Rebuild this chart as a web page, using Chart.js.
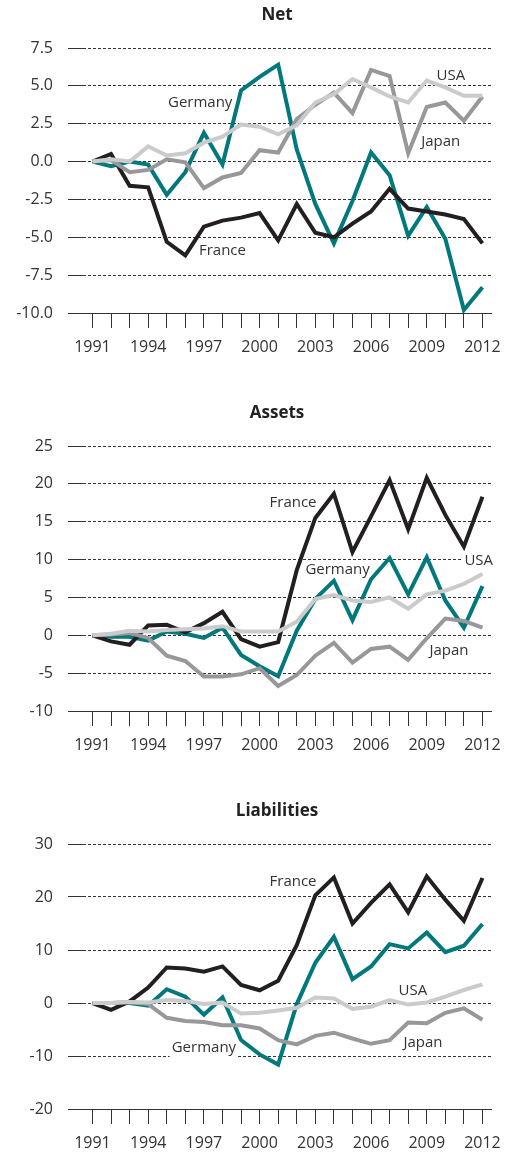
<!DOCTYPE html>
<html>
<head>
<meta charset="utf-8">
<script src="https://cdn.jsdelivr.net/npm/chart.js@4.4.1/dist/chart.umd.min.js"></script>
<style>
    html, body { margin: 0; padding: 0; background: #fff; }
    body { width: 511px; height: 1160px; position: relative; overflow: hidden; }
    canvas { position: absolute; left: 0; }
</style>
</head>
<body>
<canvas id="netChart" width="511" height="364" style="top:0px"></canvas>
<canvas id="assetsChart" width="511" height="364" style="top:398px"></canvas>
<canvas id="liabChart" width="511" height="364" style="top:796px"></canvas>
<script>
    const years = [1991, 1992, 1993, 1994, 1995, 1996, 1997, 1998, 1999, 2000, 2001,
                   2002, 2003, 2004, 2005, 2006, 2007, 2008, 2009, 2010, 2011, 2012];

    // Net
    const franceNet  = [0, 0.5, -1.6, -1.7, -5.3, -6.2, -4.3, -3.9, -3.7, -3.4, -5.2, -2.8, -4.7, -5.0, -4.1, -3.3, -1.8, -3.1, -3.3, -3.5, -3.8, -5.4];
    const germanyNet = [0, -0.3, 0, -0.2, -2.2, -0.7, 1.9, -0.2, 4.7, 5.6, 6.4, 0.8, -2.8, -5.4, -2.6, 0.6, -0.9, -4.9, -3.0, -5.1, -9.8, -8.3];
    const usaNet     = [0, 0.15, 0, 1.0, 0.4, 0.55, 1.25, 1.65, 2.45, 2.3, 1.8, 2.4, 3.9, 4.45, 5.45, 4.9, 4.3, 3.9, 5.35, 4.9, 4.35, 4.35];
    const japanNet   = [0, 0.1, -0.7, -0.55, 0.15, -0.05, -1.75, -1.05, -0.75, 0.75, 0.6, 2.8, 3.75, 4.55, 3.2, 6.05, 5.65, 0.55, 3.6, 3.9, 2.7, 4.3];
    const netTicks   = [-10, -7.5, -5, -2.5, 0, 2.5, 5, 7.5];

    // Assets
    const franceAssets  = [0, -0.8, -1.25, 1.3, 1.4, 0.4, 1.6, 3.1, -0.5, -1.5, -0.9, 8.6, 15.5, 18.7, 11.0, 15.7, 20.5, 14.0, 20.8, 15.9, 11.7, 18.3];
    const germanyAssets = [0, -0.2, -0.2, -0.7, 0.5, 0.2, -0.35, 1.0, -2.6, -4.1, -5.4, 0.6, 4.8, 7.2, 2.0, 7.4, 10.2, 5.4, 10.3, 4.6, 1.0, 6.5];
    const usaAssets     = [0, 0.2, 0.6, 0.5, 0.7, 0.8, 0.9, 1.2, 0.5, 0.5, 0.5, 1.8, 4.8, 5.3, 4.6, 4.4, 5.0, 3.5, 5.4, 5.9, 6.8, 8.1];
    const japanAssets   = [0, 0.1, 0.3, -0.35, -2.7, -3.4, -5.45, -5.45, -5.15, -4.35, -6.7, -5.25, -2.7, -1.0, -3.6, -1.8, -1.5, -3.25, -0.4, 2.2, 1.9, 1.0];
    const assetsTicks   = [-10, -5, 0, 5, 10, 15, 20, 25];

    // Liabilities
    const franceLiab  = [0, -1.3, 0.3, 2.9, 6.7, 6.5, 5.9, 6.9, 3.4, 2.4, 4.2, 10.9, 20.3, 23.7, 15.0, 18.9, 22.4, 17.1, 23.9, 19.5, 15.5, 23.6];
    const germanyLiab = [0, 0, 0, -0.5, 2.6, 1.2, -2.2, 1.05, -7.0, -9.7, -11.6, -0.2, 7.6, 12.5, 4.5, 6.9, 11.1, 10.3, 13.3, 9.6, 10.8, 14.9];
    const usaLiab     = [0, 0, 0.2, 0.1, 0.55, 0.4, -0.2, 0.1, -2.0, -1.85, -1.4, -0.9, 1.05, 0.85, -1.1, -0.7, 0.55, -0.3, 0.1, 1.2, 2.45, 3.5];
    const japanLiab   = [0, 0, 0.2, -0.2, -2.8, -3.4, -3.6, -4.2, -4.2, -4.8, -7.0, -7.8, -6.2, -5.6, -6.7, -7.7, -7.0, -3.7, -3.8, -1.85, -1.0, -3.15];
    const liabTicks   = [-20, -10, 0, 10, 20, 30];

    const colors = { France: '#231f20', Germany: '#00787c', USA: '#cbcbcb', Japan: '#98989b' };
    const textColor = '#333';

    Chart.defaults.font.family = '"Open Sans", sans-serif';

    // panel title, centred a bit right of the canvas middle like the original
    const panelTitle = {
        id: 'panelTitle',
        afterDraw(chart, args, opts) {
            const ctx = chart.ctx;
            ctx.save();
            ctx.font = 'bold 17px "Open Sans", sans-serif';
            ctx.fillStyle = '#222';
            ctx.textAlign = 'center';
            ctx.textBaseline = 'middle';
            ctx.fillText(opts.text, 277, 15);
            ctx.restore();
        }
    };

    // country names placed in data coordinates
    const seriesLabels = {
        id: 'seriesLabels',
        beforeDatasetsDraw(chart, args, opts) {
            const { ctx, scales: { x, y } } = chart;
            ctx.save();
            ctx.font = '15px "Open Sans", sans-serif';
            ctx.fillStyle = '#fff';
            opts.items.forEach(l => {
                const w = ctx.measureText(l.text).width;
                ctx.fillRect(x.getPixelForValue(l.year) - w / 2 - 2, y.getPixelForValue(l.value) - 9, w + 4, 18);
            });
            ctx.restore();
        },
        afterDatasetsDraw(chart, args, opts) {
            const { ctx, scales: { x, y } } = chart;
            ctx.save();
            ctx.font = '15px "Open Sans", sans-serif';
            ctx.fillStyle = textColor;
            ctx.textAlign = 'center';
            ctx.textBaseline = 'middle';
            opts.items.forEach(l => ctx.fillText(l.text, x.getPixelForValue(l.year), y.getPixelForValue(l.value)));
            ctx.restore();
        }
    };

    function series(name, values) {
        return {
            label: name,
            data: years.map((yr, i) => ({ x: yr, y: values[i] })),
            borderColor: colors[name],
            borderWidth: 4,
            borderJoinStyle: 'miter',
            pointRadius: 0,
            tension: 0,
            fill: false
        };
    }

    function renderPanel(id, title, data, yTicks, fmt, labels) {
        const ctx = document.getElementById(id).getContext('2d');
        return new Chart(ctx, {
            type: 'line',
            data: {
                datasets: [
                    series('USA', data.USA),
                    series('Japan', data.Japan),
                    series('France', data.France),
                    series('Germany', data.Germany)
                ]
            },
            plugins: [panelTitle, seriesLabels],
            options: {
                responsive: false,
                animation: false,
                layout: { padding: { top: 48, right: 11, left: 0, bottom: 0 } },
                plugins: {
                    legend: { display: false },
                    tooltip: { enabled: false },
                    panelTitle: { text: title },
                    seriesLabels: { items: labels }
                },
                scales: {
                    x: {
                        type: 'linear',
                        min: 1990.49,
                        max: 2012.49,
                        afterBuildTicks: s => { s.ticks = years.map(v => ({ value: v })); },
                        afterFit: s => { s.height = 51; },
                        ticks: {
                            autoSkip: false,
                            maxRotation: 0,
                            padding: 10,
                            color: textColor,
                            font: { size: 16 },
                            callback: v => (v - 1991) % 3 === 0 ? String(v) : ''
                        },
                        grid: { drawOnChartArea: false, drawTicks: true, tickLength: 15, tickColor: textColor, tickWidth: 1, tickBorderDash: [] },
                        border: { display: true, color: textColor, width: 1 }
                    },
                    y: {
                        min: yTicks[0],
                        max: yTicks[yTicks.length - 1],
                        afterBuildTicks: s => { s.ticks = yTicks.map(v => ({ value: v })); },
                        afterFit: s => { s.width = 83; },
                        ticks: { padding: 15, color: textColor, font: { size: 16 }, callback: fmt },
                        grid: { color: textColor, lineWidth: 1, drawTicks: true, tickLength: 15, tickColor: textColor, tickWidth: 1, tickBorderDash: [] },
                        border: { display: false, dash: [3, 2] }
                    }
                }
            }
        });
    }

    renderPanel('netChart', 'Net',
        { France: franceNet, Germany: germanyNet, USA: usaNet, Japan: japanNet },
        netTicks, v => v.toFixed(1),
        [
            { text: 'Germany', year: 1996.8, value: 3.9 },
            { text: 'USA', year: 2010.3, value: 5.7 },
            { text: 'Japan', year: 2009.75, value: 1.3 },
            { text: 'France', year: 1998.0, value: -5.9 }
        ]);

    renderPanel('assetsChart', 'Assets',
        { France: franceAssets, Germany: germanyAssets, USA: usaAssets, Japan: japanAssets },
        assetsTicks, v => String(v),
        [
            { text: 'France', year: 2001.8, value: 17.5 },
            { text: 'Germany', year: 2004.2, value: 8.6 },
            { text: 'USA', year: 2011.8, value: 9.8 },
            { text: 'Japan', year: 2010.2, value: -2.1 }
        ]);

    renderPanel('liabChart', 'Liabilities',
        { France: franceLiab, Germany: germanyLiab, USA: usaLiab, Japan: japanLiab },
        liabTicks, v => String(v),
        [
            { text: 'France', year: 2001.8, value: 22.8 },
            { text: 'USA', year: 2008.25, value: 2.3 },
            { text: 'Germany', year: 1997.0, value: -8.5 },
            { text: 'Japan', year: 2008.8, value: -7.55 }
        ]);
</script>
</body>
</html>
